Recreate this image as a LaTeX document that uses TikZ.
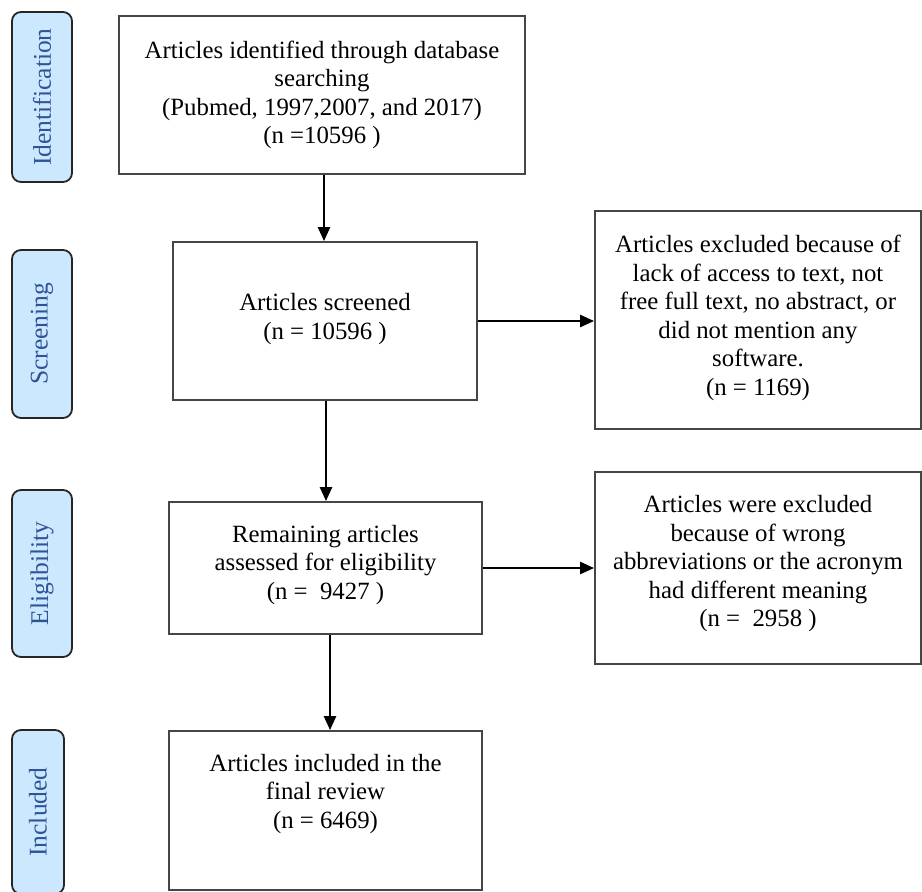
\documentclass[tikz,border=0pt]{standalone}
\usepackage{fontspec}
\setmainfont{Liberation Serif}
\usetikzlibrary{arrows.meta}
\definecolor{stagefill}{RGB}{204,232,255}
\definecolor{stagetext}{RGB}{47,84,150}
\definecolor{boxline}{RGB}{70,70,70}
\tikzset{
  flowbox/.style={draw=boxline, line width=1.8pt, fill=white, align=center, inner sep=0pt,
    font=\fontsize{24.8}{28.5}\selectfont},
  plaintext/.style={align=center, inner sep=0pt, font=\fontsize{24.8}{28.5}\selectfont},
  stagebox/.style={draw=black!85, line width=1.8pt, fill=stagefill, rounded corners=9pt,
    rotate=90, inner sep=0pt, text=stagetext, font=\fontsize{25.5}{29}\selectfont},
  flowarrow/.style={draw=black, line width=2.5pt, -{Triangle[length=14pt,width=12pt]}}
}
\begin{document}
\begin{tikzpicture}[x=1pt,y=-1pt]
\useasboundingbox (0,0) rectangle (922,892);
% stage labels
\node[stagebox, minimum width=170pt, minimum height=60pt] (sid) at (42,97) {Identification};
\node[stagebox, minimum width=168pt, minimum height=60pt] (sscr) at (42,334) {Screening};
\node[stagebox, minimum width=167pt, minimum height=60pt] (selig) at (42,573.5) {Eligibility};
\node[stagebox, minimum width=164pt, minimum height=52pt] (sinc) at (38,812) {Included};
% main boxes
\node[flowbox, minimum width=406pt, minimum height=158pt] (ident) at (322,95)
  {Articles identified through database\\searching\\(Pubmed, 1997,2007, and 2017)\\(n =10596 )};
\node[flowbox, minimum width=304pt, minimum height=158pt] (screen) at (325,321) {};
\node[plaintext] (screentext) at (325,319) {Articles screened\\(n = 10596 )};
\node[flowbox, minimum width=313pt, minimum height=132pt] (elig) at (325.5,568) {};
\node[plaintext] (eligtext) at (325.5,565) {Remaining articles\\assessed for eligibility\\(n =\ \ 9427 )};
\node[flowbox, minimum width=313pt, minimum height=159pt] (incl) at (325.5,810.5) {};
\node[plaintext] (incltext) at (325.5,794)
  {Articles included in the\\final review\\(n = 6469)};
\node[flowbox, minimum width=326pt, minimum height=218pt] (excl1) at (758,320) {};
\node[plaintext] (excl1text) at (758,318)
  {Articles excluded because of\\lack of access to text, not\\free full text, no abstract, or\\did not mention any\\software.\\(n = 1169)};
\node[flowbox, minimum width=326pt, minimum height=192pt] (excl2) at (758,568) {};
\node[plaintext] (excl2text) at (758,564)
  {Articles were excluded\\because of wrong\\abbreviations or the acronym\\had different meaning\\(n =\ \ 2958 )};
% connectors
\draw[flowarrow] ([xshift=2pt]ident.south) -- ([xshift=2pt]ident.south |- screen.north);
\draw[flowarrow] ([xshift=1pt]screen.south) -- ([xshift=1pt]screen.south |- elig.north);
\draw[flowarrow] ([xshift=4.5pt]elig.south) -- ([xshift=4.5pt]elig.south |- incl.north);
\draw[flowarrow] (screen.east) -- (screen.east -| excl1.west);
\draw[flowarrow] (elig.east) -- (elig.east -| excl2.west);
\end{tikzpicture}
\end{document}
